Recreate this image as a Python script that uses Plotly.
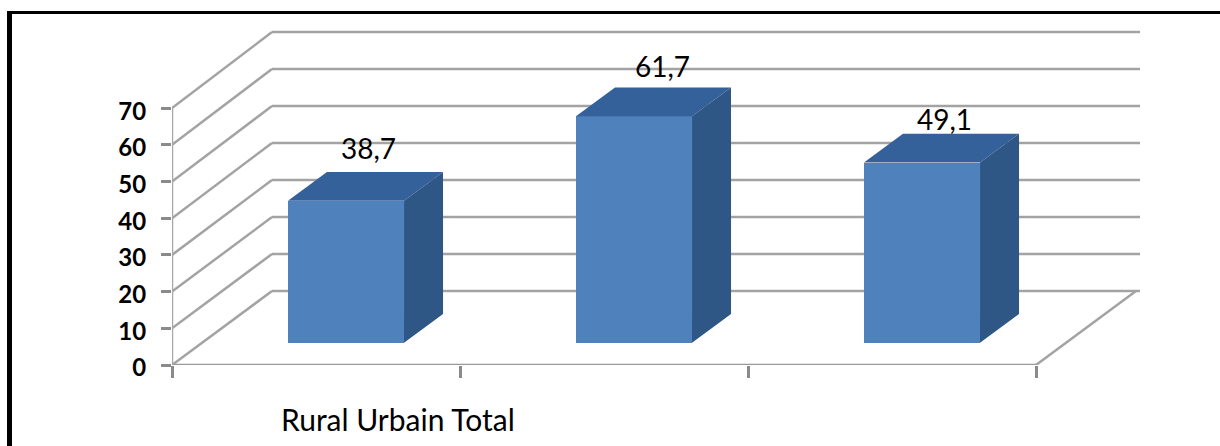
import plotly.graph_objects as go

categories = ["Rural", "Urbain", "Total"]
values = [38.7, 61.7, 49.1]
value_labels = ["38,7", "61,7", "49,1"]
y_ticks = [0, 10, 20, 30, 40, 50, 60, 70]
x_ticks = [0, 1, 2, 3]

W, H = 1220, 446
X0, X1 = 172, 1140      # plot area, pixels
Y0, Y1 = 365, 30
PX_PER_CAT = 288
PX_PER_UNIT = 3.67
DEPTH_X = 100 / PX_PER_CAT       # wall depth, in category units
DEPTH_Y = 74 / PX_PER_UNIT       # wall depth, in value units
WALL_STRETCH = 1.008
BAR_WIDTH = 0.403
BAR_FRONT, BAR_BACK = 0.30, 0.69  # depth fractions of the bar
BASE = BAR_FRONT * DEPTH_Y
GRID = "#a3a3a3"
FONT = "Lato"


def project(x, v, depth):
    return x + depth * DEPTH_X, v + depth * DEPTH_Y


fig = go.Figure()

# front faces
centers = [i + 0.5 + BAR_FRONT * DEPTH_X for i in range(len(values))]
fig.add_trace(go.Bar(x=centers, y=values, base=[BASE] * len(values), width=BAR_WIDTH,
                     marker=dict(color="#4f81bd", line=dict(width=0)), hoverinfo="skip"))

# top and side faces
for i, v in enumerate(values):
    left, right = i + 0.5 - BAR_WIDTH / 2, i + 0.5 + BAR_WIDTH / 2
    fl = project(left, v, BAR_FRONT)
    fr = project(right, v, BAR_FRONT)
    bl = project(left, v, BAR_BACK)
    br = project(right, v, BAR_BACK)
    fr0 = project(right, 0, BAR_FRONT)
    br0 = project(right, 0, BAR_BACK)
    top = [fl, bl, br, fr, fl]
    side = [fr, br, br0, fr0, fr]
    fig.add_trace(go.Scatter(x=[p[0] for p in top], y=[p[1] for p in top], mode="lines",
                             fill="toself", fillcolor="#34619a", line=dict(width=0), hoverinfo="skip"))
    fig.add_trace(go.Scatter(x=[p[0] for p in side], y=[p[1] for p in side], mode="lines",
                             fill="toself", fillcolor="#2f5786", line=dict(width=0), hoverinfo="skip"))

# walls and floor, beneath the bars
shapes = []
end_x = (X1 - X0 - 100) / PX_PER_CAT


def seg(a, b, width=2.5, color=GRID):
    shapes.append(dict(type="line", xref="x", yref="y", layer="below",
                       x0=a[0], y0=a[1], x1=b[0], y1=b[1],
                       line=dict(color=color, width=width)))


for t in y_ticks:
    back = (DEPTH_X, t * WALL_STRETCH + DEPTH_Y)
    seg((0, t), back)
    seg(back, (DEPTH_X + end_x, t * WALL_STRETCH + DEPTH_Y))
seg((x_ticks[-1], 0), project(x_ticks[-1], 0, 1))
seg((0, 0), (x_ticks[-1], 0), color="#9a9a9a")
seg((0, 0), (0, y_ticks[-1]), color="#a8a8a8")

# page frame
px = lambda p: (p - X0) / (X1 - X0)
py = lambda p: (Y0 - p) / (Y0 - Y1)
for a, b, c, d in [(7, 11, 12, H + 5), (7, 11, W + 5, 14)]:
    shapes.append(dict(type="rect", xref="paper", yref="paper", layer="above",
                       x0=px(a), x1=px(c), y0=py(b), y1=py(d),
                       fillcolor="black", line=dict(width=0)))

annotations = []
label_shift = [(2, 24), (8, 22), (2, 15)]
for i, v in enumerate(values):
    x, y = project(i + 0.5, v, BAR_BACK)
    sx, sy = label_shift[i]
    annotations.append(dict(x=x - BAR_BACK * DEPTH_X + 0.5 * DEPTH_X, y=y, xref="x", yref="y",
                            text=value_labels[i], showarrow=False, xshift=sx, yshift=sy,
                            font=dict(family=FONT, size=28, color="black")))
annotations.append(dict(x=px(279), y=py(419), xref="paper", yref="paper",
                        xanchor="left", yanchor="middle",
                        text=" ".join(categories), showarrow=False,
                        font=dict(family=FONT, size=30, color="black")))

fig.update_layout(
    width=W, height=H, autosize=False, showlegend=False, bargap=0,
    paper_bgcolor="white", plot_bgcolor="rgba(0,0,0,0)",
    margin=dict(l=X0, r=W - X1, t=Y1, b=H - Y0, pad=0),
    shapes=shapes, annotations=annotations,
    xaxis=dict(range=[0, (X1 - X0) / PX_PER_CAT], tickmode="array", tickvals=x_ticks, ticktext=[""] * 4,
               ticks="outside", ticklen=12, tickwidth=3, tickcolor="#8a8a8a",
               showgrid=False, zeroline=False, showline=False, fixedrange=True),
    yaxis=dict(range=[0, (Y0 - Y1) / PX_PER_UNIT], tickmode="array", tickvals=y_ticks,
               ticks="outside", ticklen=10, tickwidth=3, tickcolor="#8a8a8a",
               ticklabelstandoff=10, ticklabelshift=3,
               tickfont=dict(family=FONT, size=24, color="black", weight="bold"),
               showgrid=False, zeroline=False, showline=False, fixedrange=True),
)

fig.write_html("out.html", config=dict(displayModeBar=False),
               post_script="document.body.style.margin='0';")
